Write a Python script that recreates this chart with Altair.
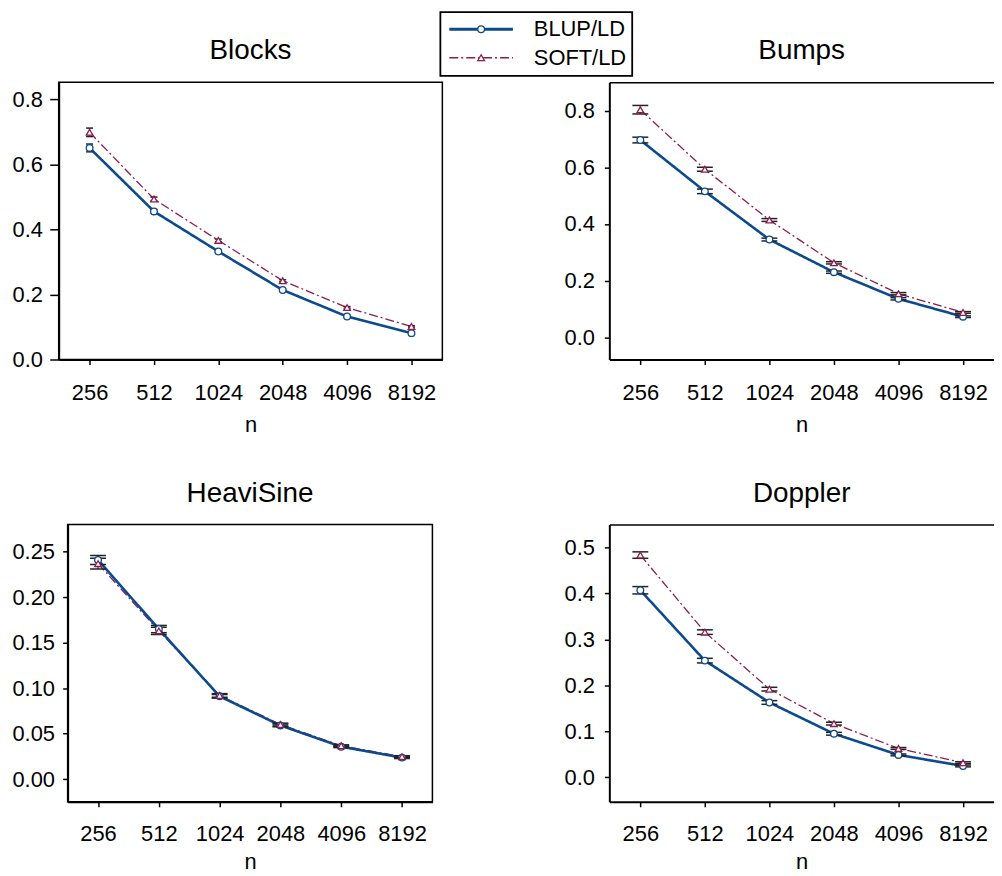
import altair as alt
import pandas as pd

FONT = "Liberation Sans"
BLUE = "#0b4a8c"
RED = "#8e1b4c"

n_labels = ["256", "512", "1024", "2048", "4096", "8192"]
series_names = ["BLUP/LD", "SOFT/LD"]

blocks_blup = [0.650, 0.455, 0.332, 0.2135, 0.132, 0.081]
blocks_soft = [0.698, 0.493, 0.366, 0.242, 0.1595, 0.1016]
blocks_blup_err = [0.012, 0.006, 0.004, 0.003, 0.003, 0.002]
blocks_soft_err = [0.013, 0.006, 0.004, 0.003, 0.003, 0.002]

bumps_blup = [0.696, 0.515, 0.345, 0.230, 0.136, 0.073]
bumps_soft = [0.803, 0.593, 0.414, 0.263, 0.154, 0.088]
bumps_blup_err = [0.010, 0.008, 0.005, 0.004, 0.004, 0.003]
bumps_soft_err = [0.015, 0.007, 0.005, 0.004, 0.004, 0.003]

heavi_blup = [0.241, 0.165, 0.091, 0.059, 0.0356, 0.0236]
heavi_soft = [0.237, 0.163, 0.092, 0.060, 0.0367, 0.0247]
heavi_blup_err = [0.005, 0.004, 0.002, 0.0015, 0.001, 0.001]
heavi_soft_err = [0.006, 0.004, 0.002, 0.0015, 0.001, 0.001]

doppler_blup = [0.407, 0.254, 0.163, 0.095, 0.049, 0.025]
doppler_soft = [0.4835, 0.316, 0.192, 0.117, 0.063, 0.032]
doppler_blup_err = [0.008, 0.005, 0.004, 0.003, 0.002, 0.002]
doppler_soft_err = [0.007, 0.005, 0.004, 0.003, 0.002, 0.002]

STYLES = {
    "BLUP/LD": dict(color=BLUE, dash=[1, 0], width=2.6, shape="circle", size=45, lw=3),
    "SOFT/LD": dict(color=RED, dash=[9, 3, 2, 3], width=1.3, shape="triangle-up", size=45, lw=1.5),
}


def make_panel(title, blup, soft, blup_err, soft_err, ydom, yvals, yfmt, w, h,
               ytick, ypad, cap, xpad, xlabpad, xtitpad, frame):
    df = pd.DataFrame({
        "n": n_labels + n_labels,
        "series": [series_names[0]] * len(n_labels) + [series_names[1]] * len(n_labels),
        "mean": blup + soft,
        "err": blup_err + soft_err,
    })
    xscale = alt.Scale(type="point", padding=xpad)
    xenc = alt.X("n:N", sort=n_labels, scale=xscale,
                 axis=alt.Axis(title="n", labelAngle=0, tickSize=5, tickWidth=1.5,
                               labelPadding=xlabpad, titlePadding=xtitpad, domainWidth=2))
    yscale = alt.Scale(domain=ydom, nice=False, zero=False)
    yaxis = alt.Axis(values=yvals, format=yfmt, title=None, tickSize=ytick, tickWidth=1.5,
                     labelPadding=ypad, domainWidth=2)
    base = alt.Chart(df).transform_calculate(
        lo="datum.mean - datum.err", hi="datum.mean + datum.err"
    ).encode(x=xenc)

    layers = []
    for s in ["SOFT/LD", "BLUP/LD"]:
        st = STYLES[s]
        layers.append(
            base.transform_filter(alt.datum.series == s)
            .mark_line(color=st["color"], strokeWidth=st["width"], strokeDash=st["dash"])
            .encode(y=alt.Y("mean:Q", scale=yscale, axis=yaxis))
        )
    layers.append(
        base.mark_rule(color="black", strokeWidth=1)
        .encode(y=alt.Y("lo:Q", scale=yscale, axis=yaxis), y2="hi:Q")
    )
    for f in ["lo", "hi"]:
        layers.append(
            base.mark_tick(color="#222222", thickness=1.5, size=cap, opacity=1)
            .encode(y=alt.Y(f + ":Q", scale=yscale, axis=yaxis))
        )
    for s in ["BLUP/LD", "SOFT/LD"]:
        st = STYLES[s]
        layers.append(
            base.transform_filter(alt.datum.series == s)
            .mark_point(shape=st["shape"], size=st["size"], fill="white", fillOpacity=1,
                        stroke=st["color"], strokeWidth=1.3, opacity=1)
            .encode(y=alt.Y("mean:Q", scale=yscale, axis=yaxis))
        )

    inner = alt.layer(*layers)
    if frame:
        chart = inner.properties(view=alt.ViewBackground(stroke="black", strokeWidth=1.5))
    else:
        top = base.mark_point(opacity=0).encode(
            x=alt.X("n:N", sort=n_labels, scale=xscale,
                    axis=alt.Axis(orient="top", labels=False, ticks=False, title=None,
                                  domainWidth=1.5)),
            y=alt.Y("mean:Q", scale=yscale, axis=yaxis),
        )
        chart = alt.layer(inner, top).resolve_axis(x="independent")
    return chart.properties(
        width=w, height=h,
        title=alt.TitleParams(text=title, fontSize=28, font=FONT, fontWeight="normal",
                              baseline="alphabetic", offset=-5, anchor="middle",
                              frame="group", color="black"),
    )


def make_legend(w, h):
    layers = [
        alt.Chart(pd.DataFrame({"k": [0]})).mark_rect(fill="white", stroke="black", strokeWidth=1.8)
        .encode(x=alt.value(-2), x2=alt.value(191), y=alt.value(-70.5), y2=alt.value(-6.3))
    ]
    for s, ly in zip(series_names, [-53.3, -24.7]):
        st = STYLES[s]
        lc = alt.Chart(pd.DataFrame({"label": [s]}))
        layers.append(
            lc.mark_rule(color=st["color"], strokeWidth=st["lw"], strokeDash=st["dash"])
            .encode(x=alt.value(7), x2=alt.value(71), y=alt.value(ly))
        )
        layers.append(
            lc.mark_point(shape=st["shape"], size=st["size"], fill="white", fillOpacity=1,
                          stroke=st["color"], strokeWidth=1.3, opacity=1)
            .encode(x=alt.value(39), y=alt.value(ly))
        )
        layers.append(
            lc.mark_text(align="left", baseline="middle", font=FONT, fontSize=22, color="black")
            .encode(x=alt.value(92), y=alt.value(ly), text="label:N")
        )
    return alt.layer(*layers).properties(width=w, height=h)


def spacer(w, h):
    return alt.Chart(pd.DataFrame({"k": [0]})).mark_point(opacity=0).properties(width=w, height=h)


blocks = make_panel("Blocks", blocks_blup, blocks_soft, blocks_blup_err, blocks_soft_err,
                    [0, 0.852], [0, 0.2, 0.4, 0.6, 0.8], ".1f", 386, 279,
                    9, 7.4, 7, 0.48, 18, 11, True)
bumps = make_panel("Bumps", bumps_blup, bumps_soft, bumps_blup_err, bumps_soft_err,
                   [-0.078, 0.9], [0, 0.2, 0.4, 0.6, 0.8], ".1f", 387, 279,
                   5, 10, 16, 0.48, 18, 11, False)
heavi = make_panel("HeaviSine", heavi_blup, heavi_soft, heavi_blup_err, heavi_soft_err,
                   [-0.025, 0.28], [0, 0.05, 0.1, 0.15, 0.2, 0.25], ".2f", 367, 279,
                   5, 8.2, 16, 0.5, 17, 7, True)
doppler = make_panel("Doppler", doppler_blup, doppler_soft, doppler_blup_err, doppler_soft_err,
                     [-0.053, 0.55], [0, 0.1, 0.2, 0.3, 0.4, 0.5], ".1f", 387, 279,
                     5, 10, 16, 0.48, 17, 7, False)

row1 = alt.hconcat(blocks, make_legend(168, 279), bumps, spacing=0, bounds="flush")
row2 = alt.hconcat(spacer(9, 279), heavi, spacer(178, 279), doppler, spacing=0, bounds="flush")

chart = alt.vconcat(row1, row2, spacing=43).properties(
    padding={"left": 3, "top": 0, "right": 0, "bottom": 0}
).configure_axis(
    labelFont=FONT, titleFont=FONT, labelFontSize=22, titleFontSize=22,
    titleFontWeight="normal", labelColor="black", titleColor="black",
    tickColor="black", domainColor="black", grid=False,
).configure_view(strokeWidth=0)

chart.save("out.html", embed_options={"renderer": "svg", "actions": False})
